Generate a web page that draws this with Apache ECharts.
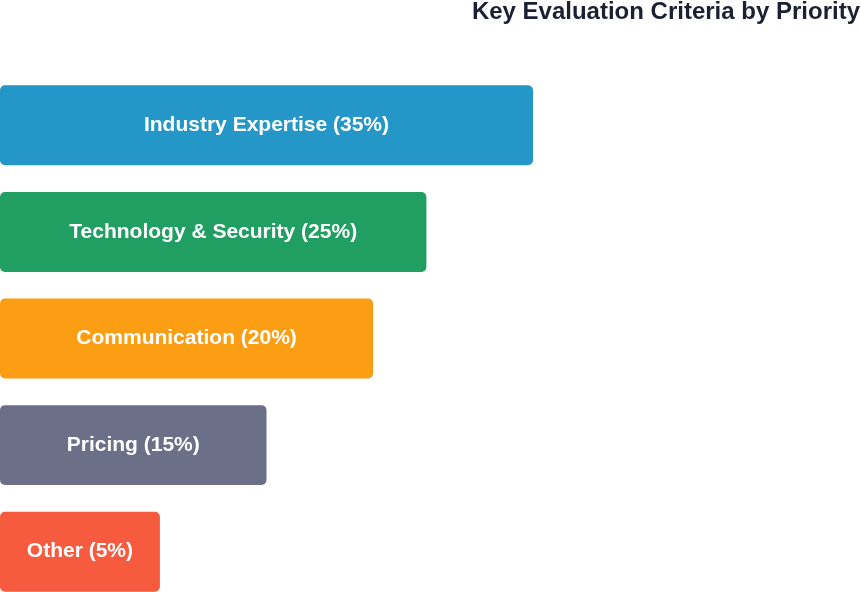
<!DOCTYPE html>
<html>
<head>
<meta charset="utf-8">
<title>Key Evaluation Criteria by Priority</title>
<script src="https://cdn.jsdelivr.net/npm/echarts@6/dist/echarts.min.js"></script>
<style>
  html, body { margin: 0; padding: 0; background: #ffffff; }
  #chart { width: 861px; height: 592px; }
</style>
</head>
<body>
<div id="chart"></div>
<script>
// criteria, top to bottom
var categories = ['Industry Expertise', 'Technology & Security', 'Communication', 'Pricing', 'Other']
// weight shown in the label
var shares = [35, 25, 20, 15, 5]
// bar length (priority score)
var scores = [5, 4, 3.5, 2.5, 1.5]
var colors = ['#2496c8', '#219e61', '#fc9e13', '#6b6f88', '#f75b3f']

var chart = echarts.init(document.getElementById('chart'))

var option = {
  animation: false,
  title: {
    text: 'Key Evaluation Criteria by Priority',
    right: 0,
    top: 0,
    padding: [0, 1, 5, 5],
    textStyle: {
      fontFamily: 'Liberation Sans, Arial, sans-serif',
      fontSize: 24,
      fontWeight: 'bold',
      color: '#1c2033'
    }
  },
  grid: {
    left: 0,
    right: 328,
    top: 72,
    height: 533,
    outerBoundsMode: 'none'
  },
  xAxis: {
    type: 'value',
    min: 0,
    max: 5,
    show: false
  },
  yAxis: {
    type: 'category',
    data: categories,
    inverse: true,
    show: false
  },
  series: [{
    type: 'bar',
    barWidth: '75%',
    data: scores.map(function (v, i) {
      return { value: v, itemStyle: { color: colors[i] } }
    }),
    itemStyle: { borderRadius: 5 },
    label: {
      show: true,
      position: 'inside',
      color: '#ffffff',
      fontFamily: 'Liberation Sans, Arial, sans-serif',
      fontSize: 21,
      fontWeight: 'bold',
      formatter: function (p) {
        return categories[p.dataIndex] + ' (' + shares[p.dataIndex] + '%)'
      }
    }
  }]
}

chart.setOption(option)
</script>
</body>
</html>
